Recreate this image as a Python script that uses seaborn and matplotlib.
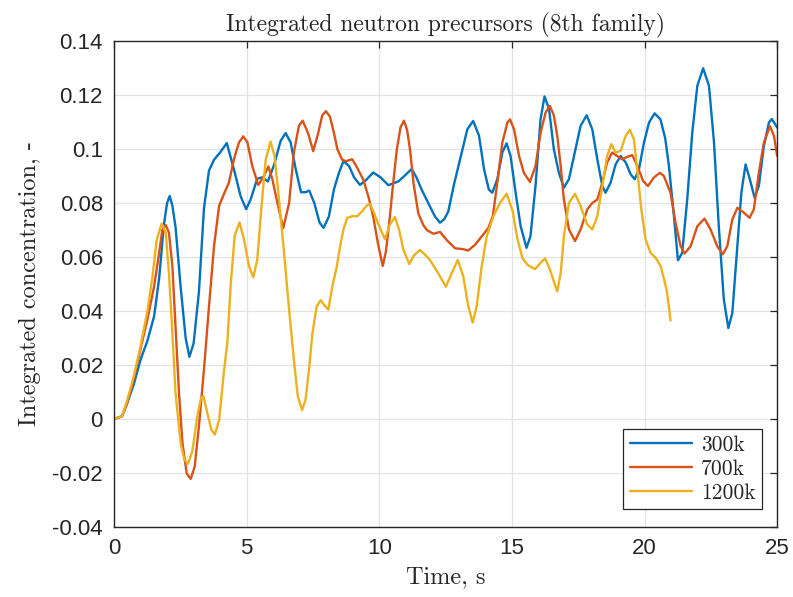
import matplotlib
matplotlib.use("Agg")
import matplotlib.pyplot as plt
import seaborn as sns
import pandas as pd

# ---------------- data ----------------
t_300k = [0, 0.3, 0.5, 0.75, 1.0, 1.26, 1.51, 1.70, 1.88, 2.0, 2.10, 2.2, 2.32, 2.51, 2.70, 2.84, 3.0,
          3.20, 3.39, 3.58, 3.77, 4.02, 4.25, 4.52, 4.77, 4.98, 5.15, 5.40, 5.59, 5.80, 6.03, 6.28,
          6.47, 6.66, 6.85, 7.05, 7.22, 7.36, 7.55, 7.75, 7.90, 8.10, 8.29, 8.48, 8.65, 8.86, 9.05,
          9.27, 9.50, 9.77, 10.05, 10.34, 10.72, 11.0, 11.22, 11.40, 11.60, 11.91, 12.10, 12.29,
          12.45, 12.60, 12.82, 13.04, 13.32, 13.54, 13.76, 13.95, 14.13, 14.26, 14.45, 14.64, 14.80,
          14.95, 15.14, 15.33, 15.55, 15.70, 15.89, 16.08, 16.23, 16.40, 16.58, 16.77, 16.96, 17.15,
          17.34, 17.59, 17.82, 18.03, 18.22, 18.41, 18.53, 18.72, 18.91, 19.10, 19.29, 19.48, 19.63,
          19.79, 19.98, 20.17, 20.38, 20.60, 20.78, 20.92, 21.11, 21.26, 21.42, 21.61, 21.80, 21.99,
          22.21, 22.43, 22.62, 22.80, 22.99, 23.16, 23.31, 23.50, 23.65, 23.81, 23.97, 24.15, 24.31,
          24.50, 24.69, 24.80, 25.0]
c_300k = [0, 0.001, 0.006, 0.013, 0.022, 0.029, 0.038, 0.052, 0.072, 0.080, 0.0826, 0.079, 0.071,
          0.049, 0.030, 0.023, 0.028, 0.047, 0.078, 0.092, 0.096, 0.099, 0.1022, 0.0925, 0.0826,
          0.0777, 0.0813, 0.0890, 0.0895, 0.088, 0.094, 0.103, 0.1059, 0.1024, 0.0925, 0.0840,
          0.0840, 0.0846, 0.0800, 0.0727, 0.0708, 0.0750, 0.0850, 0.0912, 0.0955, 0.0937, 0.0895,
          0.0867, 0.0885, 0.0913, 0.0895, 0.0866, 0.0880, 0.0905, 0.0926, 0.0895, 0.0849, 0.0787,
          0.0750, 0.0727, 0.0740, 0.0768, 0.0870, 0.0960, 0.1073, 0.1104, 0.1049, 0.0925, 0.0850,
          0.0838, 0.0888, 0.0987, 0.1021, 0.0974, 0.0838, 0.0714, 0.0634, 0.0677, 0.0863, 0.111,
          0.1195, 0.1148, 0.1000, 0.0912, 0.0857, 0.0888, 0.0974, 0.1086, 0.1125, 0.1073, 0.0962,
          0.0863, 0.0838, 0.0875, 0.0943, 0.0974, 0.0950, 0.0906, 0.0888, 0.0925, 0.1024, 0.1098,
          0.1132, 0.1110, 0.1040, 0.0937, 0.0751, 0.0588, 0.0615, 0.0813, 0.1060, 0.1234, 0.1299,
          0.1234, 0.1024, 0.0714, 0.0442, 0.0337, 0.0392, 0.0640, 0.0838, 0.0943, 0.0888, 0.0820,
          0.0863, 0.1011, 0.1098, 0.1111, 0.1080]

t_700k = [0, 0.3, 0.5, 0.75, 1.0, 1.26, 1.51, 1.70, 1.82, 1.95, 2.07, 2.20, 2.32, 2.45, 2.58, 2.74,
          2.89, 3.04, 3.20, 3.39, 3.58, 3.77, 3.96, 4.15, 4.33, 4.52, 4.71, 4.87, 5.03, 5.21, 5.44,
          5.65, 5.82, 5.97, 6.16, 6.38, 6.60, 6.78, 6.97, 7.11, 7.31, 7.51, 7.70, 7.85, 7.99, 8.14,
          8.29, 8.42, 8.60, 8.75, 8.98, 9.17, 9.40, 9.60, 9.77, 9.95, 10.13, 10.25, 10.40, 10.52,
          10.66, 10.80, 10.93, 11.05, 11.16, 11.29, 11.47, 11.65, 11.79, 12.04, 12.29, 12.54, 12.86,
          13.11, 13.35, 13.61, 13.86, 14.11, 14.28, 14.45, 14.64, 14.83, 14.93, 15.08, 15.27, 15.45,
          15.68, 15.89, 16.08, 16.27, 16.43, 16.58, 16.71, 16.84, 16.96, 17.15, 17.38, 17.59, 17.84,
          18.03, 18.22, 18.41, 18.59, 18.78, 18.97, 19.16, 19.37, 19.54, 19.73, 19.95, 20.13, 20.35,
          20.58, 20.73, 20.98, 21.17, 21.36, 21.51, 21.74, 21.99, 22.26, 22.49, 22.74, 22.95, 23.12,
          23.31, 23.50, 23.75, 23.96, 24.12, 24.31, 24.50, 24.73, 24.88, 25.0]
c_700k = [0, 0.001, 0.006, 0.015, 0.026, 0.037, 0.049, 0.0615, 0.070, 0.0718, 0.069, 0.0566, 0.0343,
          0.0095, -0.009, -0.0202, -0.0222, -0.0177, -0.0028, 0.0182, 0.0417, 0.064, 0.0789, 0.0835,
          0.0875, 0.0962, 0.1024, 0.1047, 0.1024, 0.0937, 0.0867, 0.0900, 0.0935, 0.0888, 0.080,
          0.0707, 0.080, 0.0987, 0.1086, 0.1105, 0.1060, 0.0992, 0.1060, 0.1125, 0.1140, 0.1120,
          0.1060, 0.0999, 0.0960, 0.0955, 0.0962, 0.0930, 0.0886, 0.0820, 0.0750, 0.0650, 0.0567,
          0.0620, 0.0750, 0.0870, 0.0997, 0.1080, 0.1105, 0.1070, 0.0997, 0.0874, 0.0762, 0.0720,
          0.0700, 0.0686, 0.0693, 0.0663, 0.0632, 0.0630, 0.0624, 0.0645, 0.0676, 0.0707, 0.0751,
          0.0875, 0.1024, 0.1098, 0.1110, 0.1073, 0.0974, 0.0912, 0.0878, 0.0937, 0.1060, 0.1135,
          0.1160, 0.1125, 0.1049, 0.0937, 0.0813, 0.0702, 0.0659, 0.0702, 0.0776, 0.0800, 0.0813,
          0.0875, 0.0950, 0.0987, 0.0974, 0.0962, 0.0972, 0.0977, 0.0937, 0.0881, 0.0863, 0.0894,
          0.0912, 0.0900, 0.0838, 0.0727, 0.0640, 0.0613, 0.0640, 0.0714, 0.0742, 0.0702, 0.0640,
          0.0610, 0.0640, 0.0739, 0.0782, 0.0764, 0.0745, 0.0776, 0.0912, 0.1024, 0.1084, 0.1049,
          0.0974]

t_1200k = [0, 0.3, 0.5, 0.75, 1.0, 1.26, 1.44, 1.61, 1.80, 1.95, 2.07, 2.20, 2.32, 2.51, 2.65, 2.79,
           2.95, 3.14, 3.27, 3.37, 3.52, 3.67, 3.80, 3.96, 4.15, 4.27, 4.40, 4.55, 4.73, 4.90, 5.09,
           5.25, 5.40, 5.55, 5.72, 5.90, 6.05, 6.22, 6.41, 6.60, 6.78, 6.93, 7.09, 7.22, 7.35, 7.48,
           7.64, 7.79, 7.94, 8.08, 8.23, 8.39, 8.52, 8.65, 8.79, 8.98, 9.17, 9.36, 9.52, 9.65, 9.80,
           9.95, 10.21, 10.40, 10.59, 10.75, 10.90, 11.13, 11.30, 11.53, 11.71, 11.91, 12.22, 12.51,
           12.73, 12.96, 13.17, 13.35, 13.52, 13.67, 13.86, 14.05, 14.30, 14.55, 14.80, 15.03, 15.20,
           15.40, 15.60, 15.87, 16.05, 16.25, 16.45, 16.58, 16.71, 16.84, 16.96, 17.15, 17.38, 17.59,
           17.84, 18.03, 18.22, 18.41, 18.59, 18.75, 18.91, 19.10, 19.29, 19.45, 19.60, 19.75, 19.88,
           20.04, 20.23, 20.42, 20.61, 20.73, 20.83, 20.92, 20.98]
c_1200k = [0, 0.001, 0.007, 0.016, 0.027, 0.040, 0.052, 0.0665, 0.0724, 0.069, 0.054, 0.0318, 0.0095,
           -0.009, -0.0150, -0.0166, -0.0120, 0.0009, 0.0075, 0.0085, 0.0021, -0.004, -0.0058,
           -0.0004, 0.0182, 0.028, 0.050, 0.0680, 0.0728, 0.0665, 0.0566, 0.0525, 0.059, 0.0776,
           0.0962, 0.1028, 0.0974, 0.0813, 0.0615, 0.0405, 0.0219, 0.0083, 0.0033, 0.0071, 0.0182,
           0.0318, 0.0417, 0.0440, 0.0420, 0.0405, 0.0492, 0.0560, 0.0638, 0.0702, 0.0745, 0.0751,
           0.0751, 0.0770, 0.0790, 0.0797, 0.0764, 0.0725, 0.0666, 0.0720, 0.0748, 0.0700, 0.0630,
           0.0574, 0.0605, 0.0626, 0.0610, 0.0589, 0.0540, 0.0490, 0.0540, 0.0589, 0.0527, 0.0420,
           0.0357, 0.0416, 0.0564, 0.0676, 0.0750, 0.0800, 0.0834, 0.0770, 0.0670, 0.0595, 0.0570,
           0.0555, 0.0575, 0.0595, 0.0550, 0.0510, 0.0473, 0.0541, 0.0677, 0.0800, 0.0834, 0.0789,
           0.0720, 0.0702, 0.0751, 0.0863, 0.0974, 0.1018, 0.0987, 0.0993, 0.1049, 0.1071, 0.1036,
           0.0900, 0.0776, 0.0665, 0.0615, 0.0597, 0.0566, 0.0520, 0.0479, 0.0417, 0.0365]

series_labels = ["300k", "700k", "1200k"]
x_ticks = [0, 5, 10, 15, 20, 25]
y_ticks = [-0.04, -0.02, 0, 0.02, 0.04, 0.06, 0.08, 0.1, 0.12, 0.14]
y_tick_labels = ["-0.04", "-0.02", "0", "0.02", "0.04", "0.06", "0.08", "0.1", "0.12", "0.14"]
title = "Integrated neutron precursors (8th family)"
x_label = "Time, s"
y_label = "Integrated concentration, -"

# ---------------- styling ----------------
sns.set_style("white")
plt.rcParams["font.family"] = ["Liberation Sans", "DejaVu Sans"]
plt.rcParams["axes.unicode_minus"] = False

colors = ["#0072BD", "#D95319", "#EDB120"]
serif = ["cmr10", "DejaVu Serif"]

frames = []
for lab, t, c in zip(series_labels, [t_300k, t_700k, t_1200k], [c_300k, c_700k, c_1200k]):
    frames.append(pd.DataFrame({"Time": t, "Conc": c, "Case": lab}))
df = pd.concat(frames, ignore_index=True)

fig, ax = plt.subplots(figsize=(7.93, 5.97), dpi=100)
fig.subplots_adjust(left=0.1438, right=0.980, bottom=0.1173, top=0.9313)

sns.lineplot(data=df, x="Time", y="Conc", hue="Case", hue_order=series_labels,
             palette=colors, sort=False, estimator=None, linewidth=1.7, ax=ax)
for ln in ax.get_lines():
    ln.set_solid_joinstyle("round")
    ln.set_solid_capstyle("round")

ax.set_xlim(0, 25)
ax.set_ylim(-0.04, 0.14)
ax.set_xticks(x_ticks)
ax.set_yticks(y_ticks)
ax.set_yticklabels(y_tick_labels)
ax.grid(True, color="#e3e3e3", linewidth=0.9)
ax.set_axisbelow(True)
for sp in ax.spines.values():
    sp.set_color("#262626")
    sp.set_linewidth(1.0)
    sp.set_visible(True)
ax.tick_params(direction="in", length=5, width=0.9, colors="#262626",
               top=True, right=True, labelsize=16, pad=8)
for lbl in ax.get_xticklabels() + ax.get_yticklabels():
    lbl.set_color("#262626")

ax.set_title(title, fontfamily=serif, fontsize=17, pad=7)
ax.set_xlabel(x_label, fontfamily=serif, fontsize=17.5, labelpad=5)
ax.set_ylabel(y_label, fontfamily=serif, fontsize=17.5, labelpad=8)

leg = ax.legend(loc="lower right", bbox_to_anchor=(0.977, 0.037), borderaxespad=0,
                frameon=True, fancybox=False, framealpha=1, edgecolor="#262626",
                prop={"family": serif, "size": 15.5}, handlelength=2.9, handletextpad=0.4,
                labelspacing=0.2, borderpad=0.3)
leg.get_frame().set_linewidth(0.9)

fig.savefig("out.png", dpi=100)
